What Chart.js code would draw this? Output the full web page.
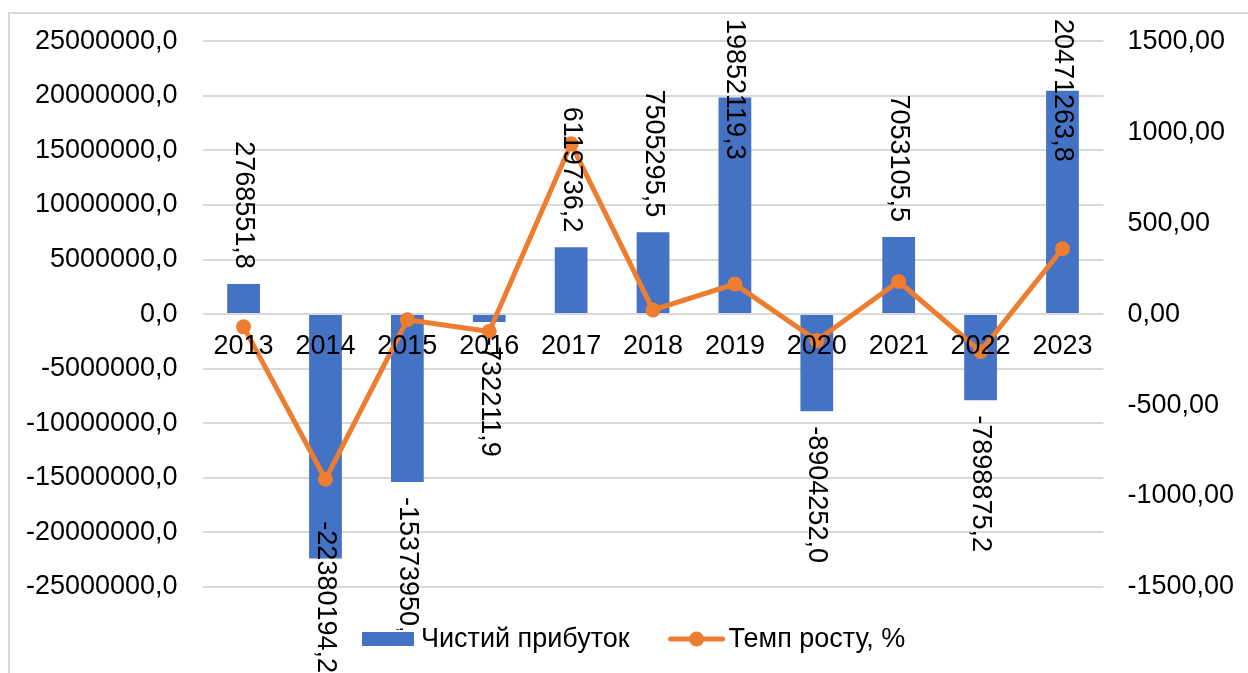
<!DOCTYPE html>
<html>
<head>
<meta charset="utf-8">
<script src="https://cdn.jsdelivr.net/npm/chart.js@4"></script>
<style>
  html, body { margin: 0; padding: 0; background: #fff; }
  canvas { display: block; }
</style>
</head>
<body>
<canvas id="c" width="1248" height="673"></canvas>
<script>
const years = ['2013','2014','2015','2016','2017','2018','2019','2020','2021','2022','2023'];
const netProfit = [2768551.8, -22380194.2, -15373950.0, -732211.9, 6119736.2, 7505295.5, 19852119.3, -8904252.0, 7053105.5, -7898875.2, 20471263.8];
const growthRate = [-70, -908, -31, -95, 936, 23, 165, -145, 179, -205, 359];
const leftTicks = { min: -25000000, max: 25000000, step: 5000000 };
const rightTicks = { min: -1500, max: 1500, step: 500 };
const seriesNames = ['Чистий прибуток', 'Темп росту, %'];

const BLUE = '#4472C4';
const ORANGE = '#ED7D31';
const FONT = "'Liberation Sans', Arial, sans-serif";
const FS = 27;

Chart.defaults.font.family = FONT;
Chart.defaults.font.size = FS;
Chart.defaults.color = '#000';

function fmt(v, d) { return v.toFixed(d).replace('.', ','); }

const frame = {
  id: 'frame',
  beforeDraw(chart) {
    const ctx = chart.ctx;
    ctx.save();
    ctx.fillStyle = '#fff';
    ctx.fillRect(0, 0, chart.width, chart.height);
    ctx.strokeStyle = '#d9d9d9';
    ctx.lineWidth = 2;
    ctx.strokeRect(9, 13, chart.width + 20, chart.height + 20);
    ctx.restore();
  }
};

const barLabels = {
  id: 'barLabels',
  afterDatasetsDraw(chart) {
    const ctx = chart.ctx;
    const meta = chart.getDatasetMeta(0);
    const gap = 15, topLimit = 19, bottomLimit = chart.height;
    ctx.save();
    ctx.font = FS + 'px ' + FONT;
    ctx.fillStyle = '#000';
    ctx.textAlign = 'left';
    ctx.textBaseline = 'middle';
    meta.data.forEach((el, i) => {
      const v = netProfit[i];
      const txt = fmt(v, 1);
      const w = ctx.measureText(txt).width;
      let start;
      if (v >= 0) {
        start = el.y - gap - w;
        if (start < topLimit) start = topLimit;
      } else {
        start = el.y + gap;
        if (start + w > bottomLimit) start = bottomLimit - w;
      }
      ctx.save();
      ctx.translate(el.x, start);
      ctx.rotate(Math.PI / 2);
      ctx.fillText(txt, 0, 0);
      ctx.restore();
    });
    ctx.restore();
  }
};

const legendBox = {
  id: 'legendBox',
  afterDraw(chart) {
    const ctx = chart.ctx;
    ctx.save();
    ctx.font = FS + 'px ' + FONT;
    const w1 = ctx.measureText(seriesNames[0]).width;
    const w2 = ctx.measureText(seriesNames[1]).width;
    const boxW = 52, lineW = 56, g1 = 7, gItems = 39, g2 = 4;
    const total = boxW + g1 + w1 + gItems + lineW + g2 + w2;
    let x = Math.round((chart.width - total) / 2 + 10);
    const cy = Math.round(chart.chartArea.bottom + 52);
    ctx.fillStyle = '#fff';
    ctx.fillRect(x - 2, cy - 9, total + 4, 26);
    ctx.fillStyle = BLUE;
    ctx.fillRect(x, cy - 7, boxW, 14);
    x += boxW + g1;
    ctx.fillStyle = '#000';
    ctx.textAlign = 'left';
    ctx.textBaseline = 'middle';
    ctx.fillText(seriesNames[0], x, cy + 1);
    x += w1 + gItems;
    ctx.strokeStyle = ORANGE;
    ctx.lineWidth = 5;
    ctx.lineCap = 'round';
    ctx.beginPath();
    ctx.moveTo(x + 2, cy);
    ctx.lineTo(x + lineW - 2, cy);
    ctx.stroke();
    ctx.fillStyle = ORANGE;
    ctx.beginPath();
    ctx.arc(x + lineW / 2, cy, 7.5, 0, Math.PI * 2);
    ctx.fill();
    x += lineW + g2;
    ctx.fillStyle = '#000';
    ctx.fillText(seriesNames[1], x, cy + 1);
    ctx.restore();
  }
};

new Chart(document.getElementById('c'), {
  data: {
    labels: years,
    datasets: [
      {
        type: 'bar',
        label: seriesNames[0],
        data: netProfit,
        backgroundColor: BLUE,
        yAxisID: 'y',
        order: 1,
        barPercentage: 0.8,
        categoryPercentage: 0.5
      },
      {
        type: 'line',
        label: seriesNames[1],
        data: growthRate,
        borderColor: ORANGE,
        backgroundColor: ORANGE,
        borderWidth: 5,
        pointRadius: 7.5,
        pointBackgroundColor: ORANGE,
        pointBorderWidth: 0,
        tension: 0,
        yAxisID: 'y1',
        order: 0
      }
    ]
  },
  options: {
    responsive: false,
    devicePixelRatio: 1,
    animation: false,
    layout: { padding: { left: 1, right: -10, top: 41, bottom: 86 } },
    plugins: {
      tooltip: { enabled: false },
      legend: { display: false }
    },
    scales: {
      x: {
        position: { y: 0 },
        grid: { display: false, drawTicks: false },
        border: { display: false },
        ticks: { padding: 16, color: '#000', maxRotation: 0, autoSkip: false, z: 1 }
      },
      y: {
        position: 'left',
        min: leftTicks.min,
        max: leftTicks.max,
        grid: { color: '#d9d9d9', lineWidth: 2, drawTicks: false },
        border: { display: false },
        ticks: {
          stepSize: leftTicks.step,
          padding: 25,
          color: '#000',
          callback: v => fmt(v, 1)
        }
      },
      y1: {
        position: 'right',
        min: rightTicks.min,
        max: rightTicks.max,
        grid: { display: false, drawTicks: false },
        border: { display: false },
        ticks: {
          stepSize: rightTicks.step,
          padding: 24,
          color: '#000',
          callback: v => fmt(v, 2)
        }
      }
    }
  },
  plugins: [frame, barLabels, legendBox]
});
</script>
</body>
</html>
